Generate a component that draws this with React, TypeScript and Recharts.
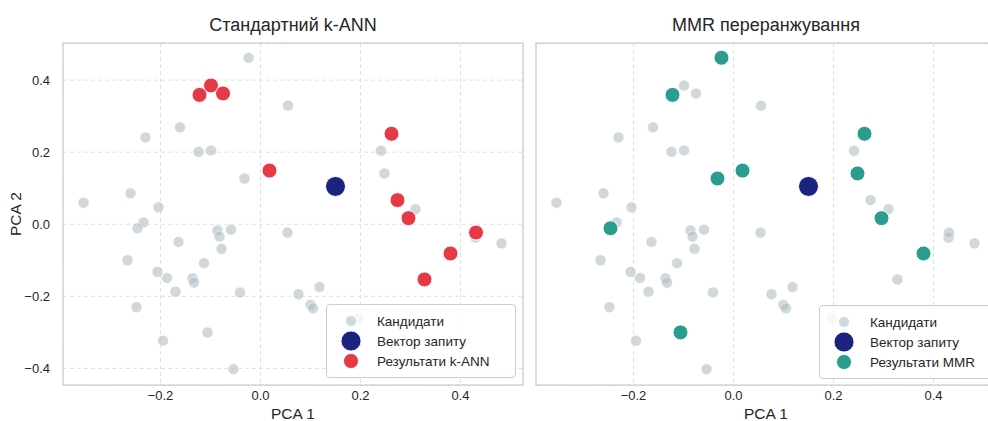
import React from 'react';
import {
  ScatterChart,
  Scatter,
  XAxis,
  YAxis,
  CartesianGrid,
  ReferenceArea,
  Legend,
  Label,
} from 'recharts';

// ---------- data ----------
const candidates = [
  { x: -0.024, y: 0.462 }, { x: 0.055, y: 0.329 }, { x: -0.161, y: 0.269 },
  { x: -0.230, y: 0.241 }, { x: -0.124, y: 0.201 }, { x: -0.099, y: 0.205 },
  { x: -0.032, y: 0.127 }, { x: -0.260, y: 0.086 }, { x: -0.354, y: 0.060 },
  { x: -0.204, y: 0.047 }, { x: -0.234, y: 0.005 }, { x: -0.246, y: -0.011 },
  { x: -0.086, y: -0.017 }, { x: -0.082, y: -0.034 }, { x: -0.059, y: -0.015 },
  { x: 0.054, y: -0.023 }, { x: -0.164, y: -0.049 }, { x: -0.078, y: -0.068 },
  { x: -0.266, y: -0.100 }, { x: -0.113, y: -0.108 }, { x: -0.206, y: -0.132 },
  { x: -0.187, y: -0.149 }, { x: -0.136, y: -0.150 }, { x: -0.133, y: -0.162 },
  { x: -0.170, y: -0.187 }, { x: -0.041, y: -0.189 }, { x: 0.076, y: -0.194 },
  { x: -0.248, y: -0.230 }, { x: -0.106, y: -0.300 }, { x: -0.195, y: -0.323 },
  { x: -0.054, y: -0.402 }, { x: 0.118, y: -0.174 }, { x: 0.100, y: -0.224 },
  { x: 0.105, y: -0.233 }, { x: 0.196, y: -0.262 }, { x: 0.241, y: 0.204 },
  { x: 0.248, y: 0.141 }, { x: 0.310, y: 0.042 }, { x: 0.482, y: -0.053 },
  { x: 0.430, y: -0.037 },
  { x: -0.122, y: 0.359 }, { x: -0.099, y: 0.385 }, { x: -0.075, y: 0.363 },
  { x: 0.018, y: 0.149 }, { x: 0.262, y: 0.251 }, { x: 0.274, y: 0.067 },
  { x: 0.296, y: 0.017 }, { x: 0.431, y: -0.023 }, { x: 0.380, y: -0.081 },
  { x: 0.328, y: -0.153 },
];

const queryVector = [{ x: 0.150, y: 0.105 }];

const kannResults = [
  { x: -0.122, y: 0.359 }, { x: -0.099, y: 0.385 }, { x: -0.075, y: 0.363 },
  { x: 0.018, y: 0.149 }, { x: 0.262, y: 0.251 }, { x: 0.274, y: 0.067 },
  { x: 0.296, y: 0.017 }, { x: 0.431, y: -0.023 }, { x: 0.380, y: -0.081 },
  { x: 0.328, y: -0.153 },
];

const mmrResults = [
  { x: -0.122, y: 0.359 }, { x: -0.024, y: 0.462 }, { x: -0.032, y: 0.127 },
  { x: 0.018, y: 0.149 }, { x: 0.262, y: 0.251 }, { x: 0.248, y: 0.141 },
  { x: 0.296, y: 0.017 }, { x: 0.380, y: -0.081 }, { x: -0.246, y: -0.011 },
  { x: -0.106, y: -0.300 },
];

const xTicks = [-0.2, 0, 0.2, 0.4];
const yTicks = [-0.4, -0.2, 0, 0.2, 0.4];
const xDomain: [number, number] = [-0.395, 0.525];
const yDomain: [number, number] = [-0.446, 0.503];

// ---------- style ----------
const FONT = '"Liberation Sans", Arial, Helvetica, sans-serif';
const TEXT = '#262626';
const C_CAND = '#b0bec5';
const C_QUERY = '#1a237e';
const C_KANN = '#e63946';
const C_MMR = '#2a9d8f';

const fmt = (v: number) => (v < 0 ? '\u2212' : '') + Math.abs(v).toFixed(1);

const makeDot = (r: number, fill: string, opacity: number, sw: number) => (props: any) => (
  <circle
    cx={props.cx}
    cy={props.cy}
    r={r}
    fill={fill}
    fillOpacity={opacity}
    stroke="#ffffff"
    strokeWidth={sw}
  />
);

type LegendItem = { name: string; color: string; r: number; opacity: number };

const makeLegend = (items: LegendItem[], width: number) => () => (
  <div
    style={{
      width,
      height: 74,
      boxSizing: 'border-box',
      background: 'rgba(255,255,255,0.8)',
      border: '1px solid #cccccc',
      borderRadius: 4,
      position: 'relative',
      fontFamily: FONT,
      fontSize: 13.5,
      color: TEXT,
    }}
  >
    {items.map((it, i) => (
      <div
        key={it.name}
        style={{
          position: 'absolute',
          left: 0,
          top: 6 + 20 * i,
          height: 20,
          display: 'flex',
          alignItems: 'center',
          whiteSpace: 'nowrap',
        }}
      >
        <svg width={50} height={20} style={{ display: 'block' }}>
          <circle cx={24} cy={10} r={it.r} fill={it.color} fillOpacity={it.opacity} stroke="#fff" strokeWidth={0.8} />
        </svg>
        <span>{it.name}</span>
      </div>
    ))}
  </div>
);

type PanelProps = {
  left: number;
  width: number;
  marginLeft: number;
  yAxisWidth: number;
  showY: boolean;
  title: string;
  results: { x: number; y: number }[];
  resultName: string;
  resultColor: string;
  legendLeft: number;
  legendTop: number;
  legendWidth: number;
};

function Panel(p: PanelProps) {
  const plotLeft = p.left + p.marginLeft + p.yAxisWidth;
  const legendItems: LegendItem[] = [
    { name: 'Кандидати', color: C_CAND, r: 5.5, opacity: 0.6 },
    { name: 'Вектор запиту', color: C_QUERY, r: 10, opacity: 1 },
    { name: p.resultName, color: p.resultColor, r: 7.5, opacity: 1 },
  ];
  return (
    <>
      <div
        style={{
          position: 'absolute',
          left: plotLeft,
          top: 15,
          width: 460,
          textAlign: 'center',
          fontFamily: FONT,
          fontSize: 18,
          lineHeight: '20px',
          color: TEXT,
          whiteSpace: 'nowrap',
        }}
      >
        {p.title}
      </div>
      <div style={{ position: 'absolute', left: p.left, top: 0 }}>
        <ScatterChart
          width={p.width}
          height={421}
          margin={{ top: 43, right: 7, bottom: 0, left: p.marginLeft }}
        >
          <CartesianGrid strokeDasharray="4 3" stroke="#dcdcdc" strokeWidth={0.9} />
          <XAxis
            type="number"
            dataKey="x"
            domain={xDomain}
            ticks={xTicks}
            tickFormatter={fmt}
            height={36}
            axisLine={false}
            tickLine={false}
            tickSize={0}
            tickMargin={6}
            allowDataOverflow
            tick={{ fill: TEXT, fontSize: 13, fontFamily: FONT }}
          >
            <Label value="PCA 1" position="insideBottom" offset={2} fill={TEXT} fontSize={15.5} fontFamily={FONT} />
          </XAxis>
          <YAxis
            type="number"
            dataKey="y"
            domain={yDomain}
            ticks={yTicks}
            tickFormatter={fmt}
            width={p.yAxisWidth}
            axisLine={false}
            tickLine={false}
            tickSize={0}
            tickMargin={13}
            allowDataOverflow
            tick={p.showY ? { fill: TEXT, fontSize: 13, fontFamily: FONT } : false}
          >
            {p.showY && (
              <Label
                content={(lp: any) => {
                  const vb = lp.viewBox || { x: 0, y: 43, width: 63, height: 342 };
                  const cx = vb.x + 15;
                  const cy = vb.y + vb.height / 2;
                  return (
                    <text
                      x={cx}
                      y={cy}
                      transform={`rotate(-90 ${cx} ${cy})`}
                      textAnchor="middle"
                      dominantBaseline="central"
                      fill={TEXT}
                      fontSize={15.5}
                      fontFamily={FONT}
                    >
                      PCA 2
                    </text>
                  );
                }}
              />
            )}
          </YAxis>
          <ReferenceArea
            x1={xDomain[0]}
            x2={xDomain[1]}
            y1={yDomain[0]}
            y2={yDomain[1]}
            fill="none"
            fillOpacity={0}
            stroke="#cccccc"
            strokeWidth={1.25}
            ifOverflow="visible"
          />
          <Scatter
            name="Кандидати"
            data={candidates}
            fill={C_CAND}
            shape={makeDot(5.5, C_CAND, 0.6, 0.5)}
            isAnimationActive={false}
          />
          <Scatter
            name="Вектор запиту"
            data={queryVector}
            fill={C_QUERY}
            shape={makeDot(10, C_QUERY, 1, 1)}
            isAnimationActive={false}
          />
          <Scatter
            name={p.resultName}
            data={p.results}
            fill={p.resultColor}
            shape={makeDot(7.5, p.resultColor, 1, 1)}
            isAnimationActive={false}
          />
          <Legend
            verticalAlign="middle"
            align="center"
            layout="horizontal"
            content={makeLegend(legendItems, p.legendWidth)}
            wrapperStyle={{ left: p.legendLeft, top: p.legendTop, width: p.legendWidth, height: 74 }}
          />
        </ScatterChart>
      </div>
    </>
  );
}

export default function App() {
  return (
    <div
      style={{
        position: 'absolute',
        left: 0,
        top: 0,
        width: 988,
        height: 421,
        overflow: 'hidden',
        background: '#ffffff',
      }}
    >
      <Panel
        left={0}
        width={530}
        marginLeft={0}
        yAxisWidth={63}
        showY={true}
        title="Стандартний k-ANN"
        results={kannResults}
        resultName="Результати k-ANN"
        resultColor={C_KANN}
        legendLeft={326}
        legendTop={304}
        legendWidth={190}
      />
      <Panel
        left={530}
        width={473}
        marginLeft={6}
        yAxisWidth={0}
        showY={false}
        title="MMR переранжування"
        results={mmrResults}
        resultName="Результати MMR"
        resultColor={C_MMR}
        legendLeft={289}
        legendTop={305}
        legendWidth={182}
      />
    </div>
  );
}
